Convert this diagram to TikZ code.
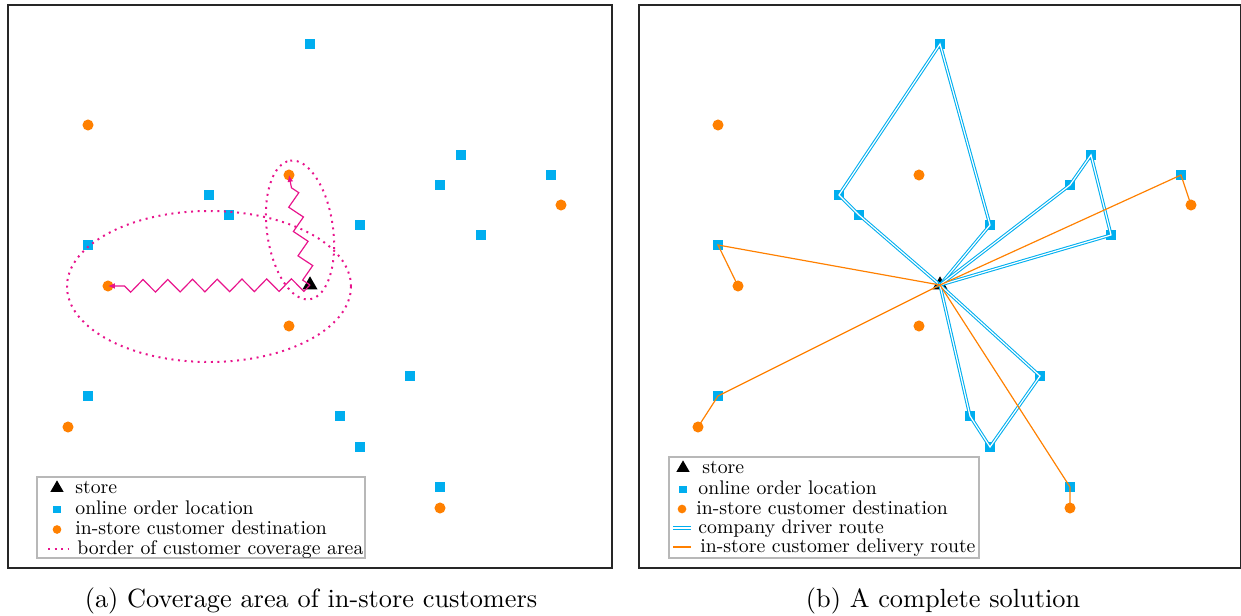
\documentclass[tikz,border=0pt]{standalone}
\usetikzlibrary{shapes.geometric,decorations.pathmorphing,arrows.meta}
\definecolor{onlc}{RGB}{0,174,239}
\definecolor{insc}{RGB}{255,128,0}
\definecolor{covc}{RGB}{232,20,140}
\begin{document}
\begin{tikzpicture}[x=0.38pt,y=-0.38pt,
  storem/.style={regular polygon,regular polygon sides=3,fill=black,draw=none,inner sep=0pt,minimum size=6.6pt},
  lstorem/.style={storem,minimum size=5.8pt},
  onlm/.style={rectangle,fill=onlc,draw=none,inner sep=0pt,minimum size=4.0pt},
  lonlm/.style={onlm,minimum size=3.0pt},
  insm/.style={circle,fill=insc,draw=none,inner sep=0pt,minimum size=4.2pt},
  linsm/.style={insm,minimum size=3.3pt},
  panel/.style={draw=black!85,line width=0.5pt},
  legbox/.style={draw=black!28,line width=0.4pt,fill=white},
  legtext/.style={anchor=base west,inner sep=0pt,font=\fontsize{10}{12}\selectfont,scale=0.75,transform shape},
  border/.style={draw=covc,line width=0.75pt,dash pattern=on 0.75pt off 1.75pt},
  walk/.style={draw=covc,line width=0.45pt,decorate,
    decoration={zigzag,segment length=9.4pt,amplitude=2.4pt,post=lineto,post length=2pt},
    -{Latex[length=2.6pt,width=2.2pt]}},
  drv/.style={draw=onlc,line width=0.4pt,double=white,double distance=0.45pt,line join=miter},
  dlv/.style={draw=insc,line width=0.45pt},
  capt/.style={anchor=base,inner sep=0pt,font=\fontsize{10}{12}\selectfont}]
\useasboundingbox (0,0) rectangle (1241,615);

% ---------------- panel (a) ----------------
\draw[panel] (8,5) rectangle (612,568);
\foreach \n/\px/\py in {1/310/44,2/461/155,3/440/185,4/551/175,5/209/195,6/229/215,7/360/225,
  8/88/245,9/481/235,10/410/376,11/88/396,12/340/416,13/360/447,14/440/487}{
  \node[onlm] (oa\n) at (\px,\py) {};
}
\foreach \n/\px/\py in {1/88/125,2/289/175,3/561/205,4/108/286,5/289/326,6/68/427,7/440/508}{
  \node[insm] (ca\n) at (\px,\py) {};
}
\node[storem] (sa) at (310,285) {};
\draw[border] (209,286.5) ellipse [x radius=142, y radius=75.5];
\draw[border, rotate around={98:(300,230)}] (300,230) ellipse [x radius=70, y radius=33];
\draw[walk] (sa.center) -- (ca4.center);
\draw[walk] (sa.center) -- (ca2.center);

% legend (a)
\draw[legbox] (37,477) rectangle (365,558);
\node[lstorem] (lsa) at (57,488) {};
\node[lonlm] (loa) at (57,509.5) {};
\node[linsm] (lca) at (57,529.5) {};
\coordinate (lba1) at (48,549);
\coordinate (lba2) at (68,549);
\draw[border] (lba1) -- (lba2);
\node[legtext] (ta1) at (75,493) {store};
\node[legtext] (ta2) at (75,514.5) {online order location};
\node[legtext] (ta3) at (75,534.5) {in-store customer destination};
\node[legtext] (ta4) at (77,554) {border of customer coverage area};

\node[capt] (capa) at (311,607) {(a) Coverage area of in-store customers};

% ---------------- panel (b) ----------------
\draw[panel] (639,5) rectangle (1240.5,568);
\foreach \n/\px/\py in {1/310/44,2/461/155,3/440/185,4/551/175,5/209/195,6/229/215,7/360/225,
  8/88/245,9/481/235,10/410/376,11/88/396,12/340/416,13/360/447,14/440/487}{
  \node[onlm] (ob\n) at ({\px+630},\py) {};
}
\foreach \n/\px/\py in {1/88/125,2/289/175,3/561/205,4/108/286,5/289/326,6/68/427,7/440/508}{
  \node[insm] (cb\n) at ({\px+630},\py) {};
}
\node[storem] (sb) at (940,285) {};
% company driver routes
\draw[drv] (sb.center) -- (ob6.center) -- (ob5.center) -- (ob1.center) -- (ob7.center) -- cycle;
\draw[drv] (sb.center) -- (ob3.center) -- (ob2.center) -- (ob9.center) -- cycle;
\draw[drv] (sb.center) -- (ob10.center) -- (ob13.center) -- (ob12.center) -- cycle;
% in-store customer delivery routes
\draw[dlv] (sb.center) -- (ob8.center) -- (cb4.center);
\draw[dlv] (sb.center) -- (ob11.center) -- (cb6.center);
\draw[dlv] (sb.center) -- (ob4.center) -- (cb3.center);
\draw[dlv] (sb.center) -- (ob14.center) -- (cb7.center);

% legend (b)
\draw[legbox] (669,457) rectangle (979,558);
\node[lstorem] (lsb) at (683,468) {};
\node[lonlm] (lob) at (683,489.5) {};
\node[linsm] (lcb) at (682,509) {};
\coordinate (ldr1) at (673,528);
\coordinate (ldr2) at (691,528);
\draw[drv] (ldr1) -- (ldr2);
\coordinate (ldl1) at (673,547);
\coordinate (ldl2) at (691,547);
\draw[dlv] (ldl1) -- (ldl2);
\node[legtext] (tb1) at (702,473) {store};
\node[legtext] (tb2) at (698,494.5) {online order location};
\node[legtext] (tb3) at (696,514) {in-store customer destination};
\node[legtext] (tb4) at (698,533) {company driver route};
\node[legtext] (tb5) at (700,552) {in-store customer delivery route};

\node[capt] (capb) at (943,607) {(b) A complete solution};
\end{tikzpicture}
\end{document}
